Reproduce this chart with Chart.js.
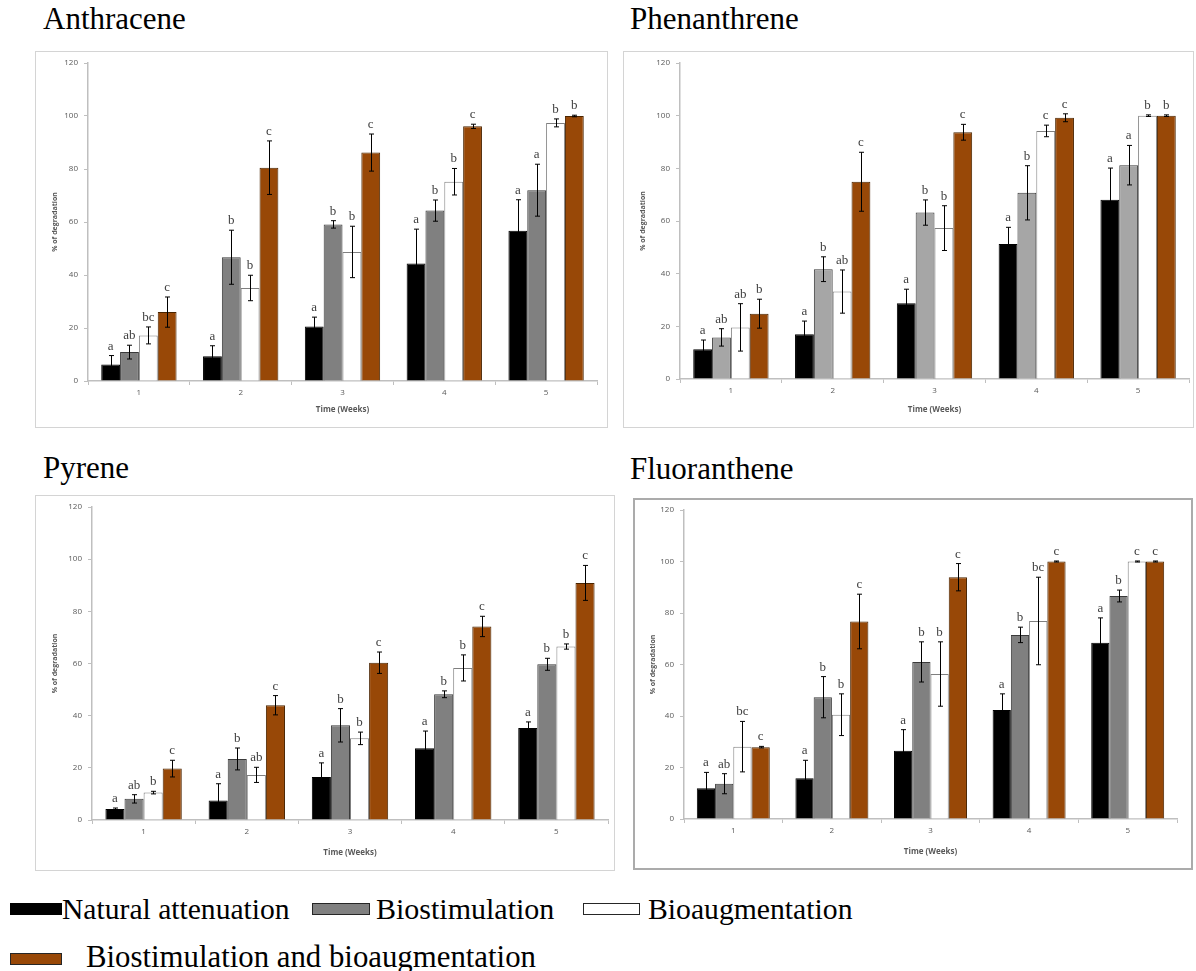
<!DOCTYPE html>
<html>
<head>
<meta charset="utf-8">
<script src="https://cdn.jsdelivr.net/npm/chart.js@4.4.1/dist/chart.umd.min.js"></script>
<style>
  body { margin: 0; background: #fff; width: 1196px; height: 971px; position: relative; overflow: hidden; font-family: 'Liberation Serif', 'Times New Roman', serif; }
  .t { position: absolute; font-size: 30px; line-height: 30px; white-space: nowrap; color: #000; }
  .h { font-size: 31px; }
  .frame { position: absolute; box-sizing: border-box; pointer-events: none; }
  canvas { position: absolute; }
  .sw { position: absolute; box-sizing: border-box; border: 1px solid #000; height: 12px; }
</style>
</head>
<body>
<div class="t h" style="left:43px;top:4px">Anthracene</div>
<div class="t h" style="left:630px;top:4px">Phenanthrene</div>
<div class="t h" style="left:43px;top:453px">Pyrene</div>
<div class="t h" style="left:630px;top:454px">Fluoranthene</div>

<div class="sw" style="left:10px;top:903px;width:52px;background:#000"></div>
<div class="t" style="left:62px;top:894px;font-size:29.6px">Natural attenuation</div>
<div class="sw" style="left:312px;top:903px;width:58px;background:#808080;border-color:#262626"></div>
<div class="t" style="left:376px;top:894px">Biostimulation</div>
<div class="sw" style="left:583px;top:903px;width:57px;background:#fff;border-color:#262626"></div>
<div class="t" style="left:648px;top:894px;font-size:29.7px">Bioaugmentation</div>
<div class="sw" style="left:10px;top:953px;width:52px;background:#984807;border-color:#262626"></div>
<div class="t" style="left:86px;top:942px;font-size:30.8px">Biostimulation and bioaugmentation</div>

<script>
// Weeks on the x axis
const weeks = ['1', '2', '3', '4', '5'];
const yTicks = [0, 20, 40, 60, 80, 100, 120];

// Anthracene: % degradation (mean) and error per treatment
const anthNatural  = [6.2, 9.3, 20.6, 44.3, 56.7];
const anthBiostim  = [10.9, 46.7, 59.1, 64.3, 72.0];
const anthBioaug   = [17.2, 35.1, 48.7, 75.2, 97.4];
const anthCombined = [26.0, 80.5, 86.2, 96.1, 100];
const anthNaturalErr  = [3.4, 4.0, 3.5, 13.0, 11.7];
const anthBiostimErr  = [2.6, 10.2, 1.4, 4.0, 9.8];
const anthBioaugErr   = [3.2, 4.8, 9.7, 5.0, 1.5];
const anthCombinedErr = [5.7, 10.1, 7.0, 0.8, 0.3];
const anthNaturalLet  = ['a', 'a', 'a', 'a', 'a'];
const anthBiostimLet  = ['ab', 'b', 'b', 'b', 'a'];
const anthBioaugLet   = ['bc', 'b', 'b', 'b', 'b'];
const anthCombinedLet = ['c', 'c', 'c', 'c', 'b'];

// Phenanthrene
const phenNatural  = [11.3, 17.0, 28.8, 51.3, 68.1];
const phenBiostim  = [15.8, 41.7, 63.2, 70.7, 81.2];
const phenBioaug   = [19.6, 33.2, 57.3, 94.2, 100];
const phenCombined = [24.8, 74.9, 93.7, 99.2, 100];
const phenNaturalErr  = [3.5, 5.0, 5.3, 6.3, 12.0];
const phenBiostimErr  = [3.3, 4.7, 4.8, 10.3, 7.5];
const phenBioaugErr   = [9.0, 8.2, 8.5, 2.2, 0.3];
const phenCombinedErr = [5.5, 11.2, 3.0, 1.5, 0.3];
const phenNaturalLet  = ['a', 'a', 'a', 'a', 'a'];
const phenBiostimLet  = ['ab', 'b', 'b', 'b', 'a'];
const phenBioaugLet   = ['ab', 'ab', 'b', 'c', 'b'];
const phenCombinedLet = ['b', 'c', 'c', 'c', 'b'];

// Pyrene
const pyrNatural  = [4.2, 7.5, 16.5, 27.5, 35.3];
const pyrBiostim  = [8.1, 23.4, 36.3, 48.2, 59.7];
const pyrBioaug   = [10.5, 17.3, 31.3, 58.3, 66.5];
const pyrCombined = [19.7, 44.0, 60.3, 74.2, 90.9];
const pyrNaturalErr  = [0.4, 6.4, 5.4, 6.6, 2.3];
const pyrBiostimErr  = [1.6, 4.2, 6.4, 1.3, 2.3];
const pyrBioaugErr   = [0.5, 2.9, 2.4, 5.0, 1.0];
const pyrCombinedErr = [3.2, 3.7, 4.1, 3.9, 6.7];
const pyrNaturalLet  = ['a', 'a', 'a', 'a', 'a'];
const pyrBiostimLet  = ['ab', 'b', 'b', 'b', 'b'];
const pyrBioaugLet   = ['b', 'ab', 'b', 'b', 'b'];
const pyrCombinedLet = ['c', 'c', 'c', 'c', 'c'];

// Fluoranthene
const fluNatural  = [11.9, 15.8, 26.5, 42.3, 68.4];
const fluBiostim  = [13.7, 47.3, 61.0, 71.5, 86.6];
const fluBioaug   = [28.1, 40.5, 56.3, 76.9, 100];
const fluCombined = [27.9, 76.7, 93.9, 100, 100];
const fluNaturalErr  = [6.2, 7.0, 8.2, 6.3, 9.7];
const fluBiostimErr  = [3.9, 8.0, 7.8, 3.0, 2.3];
const fluBioaugErr   = [9.8, 8.1, 12.5, 17.0, 0.2];
const fluCombinedErr = [0.3, 10.6, 5.3, 0.2, 0.2];
const fluNaturalLet  = ['a', 'a', 'a', 'a', 'a'];
const fluBiostimLet  = ['ab', 'b', 'b', 'b', 'b'];
const fluBioaugLet   = ['bc', 'b', 'b', 'bc', 'c'];
const fluCombinedLet = ['c', 'c', 'c', 'c', 'c'];

const treatments = ['Natural attenuation', 'Biostimulation', 'Bioaugmentation', 'Biostimulation and bioaugmentation'];

// Error bars and significance letters drawn on top of each bar
const errorBarPlugin = {
  id: 'errorBars',
  afterDatasetsDraw(chart, args, opts) {
    const ctx = chart.ctx;
    const y = chart.scales.y;
    ctx.save();
    chart.data.datasets.forEach((ds, i) => {
      const meta = chart.getDatasetMeta(i);
      const errs = opts.errors[i];
      const lets = opts.letters[i];
      meta.data.forEach((bar, j) => {
        const v = ds.data[j];
        const e = errs[j];
        const x = Math.round(bar.x) + 0.5;
        const yt = y.getPixelForValue(v + e);
        const yb = y.getPixelForValue(v - e);
        ctx.strokeStyle = '#000';
        ctx.lineWidth = 1;
        ctx.beginPath();
        ctx.moveTo(x, yt); ctx.lineTo(x, yb);
        ctx.moveTo(x - 2.5, yt); ctx.lineTo(x + 2.5, yt);
        ctx.moveTo(x - 2.5, yb); ctx.lineTo(x + 2.5, yb);
        ctx.stroke();
        ctx.fillStyle = '#404040';
        ctx.font = "13px 'Liberation Serif'";
        ctx.textAlign = 'center';
        ctx.textBaseline = 'alphabetic';
        ctx.fillText(lets[j], bar.x, yt - 6);
      });
    });
    ctx.restore();
  }
};

const panels = [
  { frame: { l: 35, t: 51, r: 608, b: 428 }, plot: { l: 88, t: 63, r: 597, b: 381 }, frameColor: '#d4d4d4', frameWidth: 1.5, gray: '#808080',
    values: [anthNatural, anthBiostim, anthBioaug, anthCombined],
    errors: [anthNaturalErr, anthBiostimErr, anthBioaugErr, anthCombinedErr],
    letters: [anthNaturalLet, anthBiostimLet, anthBioaugLet, anthCombinedLet] },
  { frame: { l: 623, t: 51, r: 1194, b: 428 }, plot: { l: 680, t: 63, r: 1189, b: 379 }, frameColor: '#d4d4d4', frameWidth: 1.5, gray: '#a6a6a6',
    values: [phenNatural, phenBiostim, phenBioaug, phenCombined],
    errors: [phenNaturalErr, phenBiostimErr, phenBioaugErr, phenCombinedErr],
    letters: [phenNaturalLet, phenBiostimLet, phenBioaugLet, phenCombinedLet] },
  { frame: { l: 35, t: 495, r: 615, b: 871 }, plot: { l: 92, t: 507, r: 608, b: 820 }, frameColor: '#d4d4d4', frameWidth: 1.5, gray: '#808080',
    values: [pyrNatural, pyrBiostim, pyrBioaug, pyrCombined],
    errors: [pyrNaturalErr, pyrBiostimErr, pyrBioaugErr, pyrCombinedErr],
    letters: [pyrNaturalLet, pyrBiostimLet, pyrBioaugLet, pyrCombinedLet] },
  { frame: { l: 633, t: 498, r: 1193, b: 870 }, plot: { l: 684, t: 510, r: 1177, b: 819 }, frameColor: '#ababab', frameWidth: 2, gray: '#808080',
    values: [fluNatural, fluBiostim, fluBioaug, fluCombined],
    errors: [fluNaturalErr, fluBiostimErr, fluBioaugErr, fluCombinedErr],
    letters: [fluNaturalLet, fluBiostimLet, fluBioaugLet, fluCombinedLet] }
];

const tickFont = { family: "'Open Sans', 'Liberation Sans', sans-serif", size: 8 };
const axisColor = '#bfbfbf';

panels.forEach(p => {
  const f = p.frame, a = p.plot;
  const canvas = document.createElement('canvas');
  canvas.width = f.r - f.l;
  canvas.height = f.b - f.t;
  canvas.style.left = f.l + 'px';
  canvas.style.top = f.t + 'px';
  canvas.style.width = canvas.width + 'px';
  canvas.style.height = canvas.height + 'px';
  document.body.appendChild(canvas);

  const border = document.createElement('div');
  border.className = 'frame';
  Object.assign(border.style, {
    left: f.l + 'px', top: f.t + 'px', width: (f.r - f.l) + 'px', height: (f.b - f.t) + 'px',
    border: p.frameWidth + 'px solid ' + p.frameColor
  });
  document.body.appendChild(border);

  const fills = ['#000000', p.gray, '#ffffff', '#984807'];
  const edges = ['#000000', '#3a3a3a', '#7f7f7f', '#4a2400'];

  new Chart(canvas, {
    type: 'bar',
    data: {
      labels: weeks,
      datasets: p.values.map((vals, i) => ({
        label: treatments[i],
        data: vals,
        backgroundColor: fills[i],
        borderColor: edges[i],
        borderWidth: 1,
        categoryPercentage: 0.74,
        barPercentage: 1.0
      }))
    },
    options: {
      responsive: false,
      animation: false,
      devicePixelRatio: 1,
      layout: { padding: { top: a.t - f.t, right: f.r - a.r, left: 0, bottom: 0 } },
      plugins: {
        legend: { display: false },
        tooltip: { enabled: false },
        errorBars: { errors: p.errors, letters: p.letters }
      },
      scales: {
        x: {
          grid: { display: true, drawOnChartArea: false, drawTicks: true, tickLength: 4, color: axisColor, offset: true },
          border: { display: true, color: axisColor, width: 1.5 },
          ticks: { font: tickFont, color: '#595959', padding: 3 },
          title: { display: true, text: 'Time (Weeks)', color: '#595959',
                   font: { family: tickFont.family, size: 8, weight: 'bold' }, padding: { top: 0, bottom: 13 } },
          afterFit: s => { s.height = f.b - a.b; }
        },
        y: {
          min: 0, max: 120,
          afterBuildTicks: s => { s.ticks = yTicks.map(v => ({ value: v })); },
          grid: { display: true, drawOnChartArea: false, drawTicks: true, tickLength: 4, color: axisColor },
          border: { display: true, color: axisColor, width: 1.5 },
          ticks: { font: tickFont, color: '#595959', padding: 6 },
          title: { display: true, text: '% of degradation', color: '#595959',
                   font: { family: tickFont.family, size: 7, weight: 'bold' }, padding: { top: 16, bottom: 0 } },
          afterFit: s => { s.width = a.l - f.l; }
        }
      }
    },
    plugins: [errorBarPlugin]
  });
});
</script>
</body>
</html>
